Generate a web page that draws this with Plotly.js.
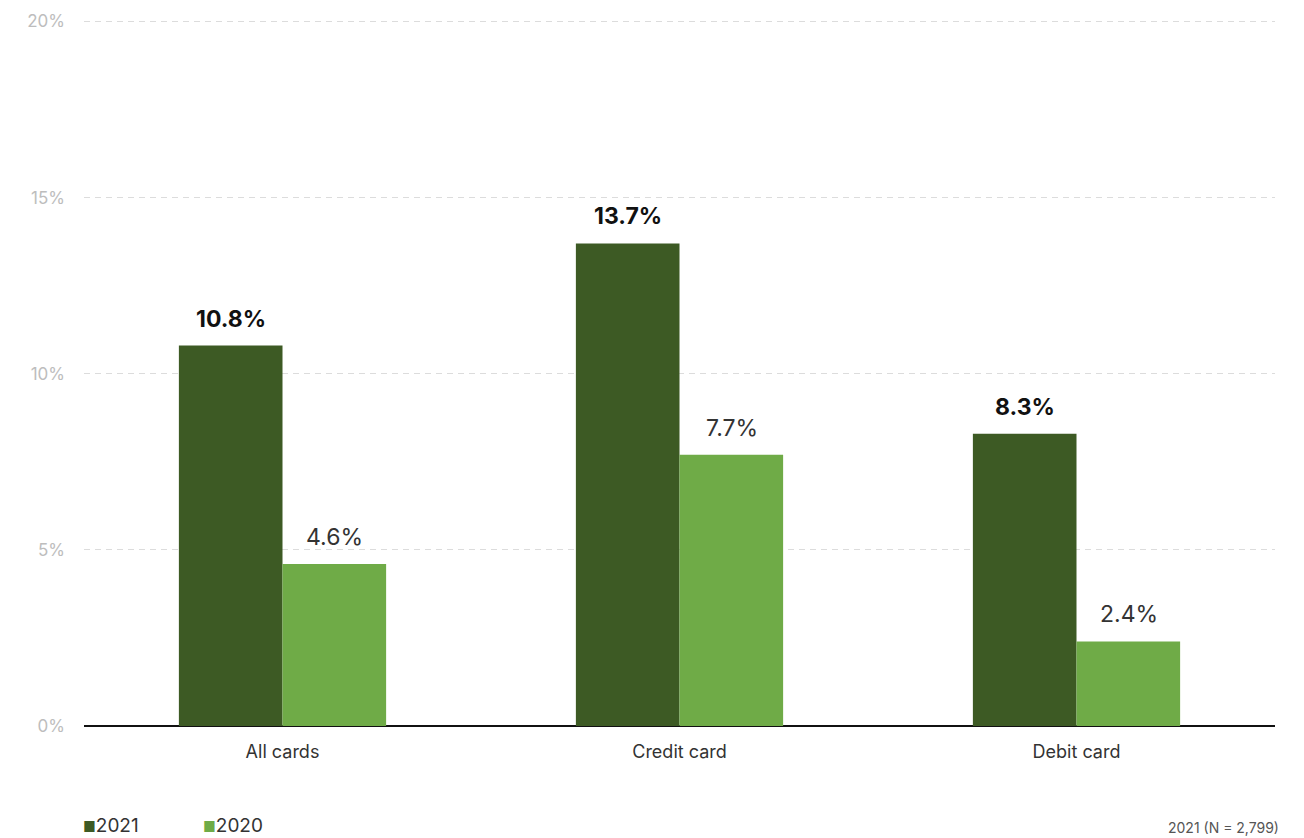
<!DOCTYPE html>
<html><head><meta charset="utf-8">
<script src="https://cdn.plot.ly/plotly-3.0.1.min.js"></script>
<style>html,body{margin:0;padding:0;background:#fff}#chart{width:1304px;height:838px}</style>
</head><body><div id="chart"></div>
<script>
const categories = ["All cards", "Credit card", "Debit card"];
const values2021 = [10.8, 13.7, 8.3];
const values2020 = [4.6, 7.7, 2.4];
const seriesNames = ["2021", "2020"];
const tickVals = [0, 5, 10, 15, 20];
const tickText = ["0%", "5%", "10%", "15%", "20%"];
const footnote = "2021 (N = 2,799)";

const dark = "#3d5a24", light = "#6fab47";
const font = "Inter, 'Noto Sans', sans-serif";

const traces = [
  {type: "bar", name: seriesNames[0], x: categories, y: values2021, marker: {color: dark}, hoverinfo: "none"},
  {type: "bar", name: seriesNames[1], x: categories, y: values2020, marker: {color: light}, hoverinfo: "none"}
];

const annotations = [];
categories.forEach((c, i) => {
  annotations.push({x: c, y: values2021[i], xref: "x", yref: "y", xshift: -52, yshift: 11, yanchor: "bottom",
    text: "<b>" + values2021[i].toFixed(1) + "%</b>", showarrow: false, font: {family: font, size: 23, color: "#111"}});
  annotations.push({x: c, y: values2020[i], xref: "x", yref: "y", xshift: 52, yshift: 11, yanchor: "bottom",
    text: values2020[i].toFixed(1) + "%", showarrow: false, font: {family: font, size: 23, color: "#333"}});
});
// legend drawn as annotations
[[seriesNames[0], dark, -3], [seriesNames[1], light, 117]].forEach(([name, col, dx]) => {
  annotations.push({xref: "paper", yref: "paper", x: 0, y: -0.140, xshift: dx, xanchor: "left", yanchor: "middle",
    text: "<span style='color:" + col + ";font-size:14px'>■</span>" + name, showarrow: false,
    font: {family: font, size: 19, color: "#333"}});
});
annotations.push({xref: "paper", yref: "paper", x: 1.005, y: -0.128, xanchor: "right", yanchor: "top",
  text: footnote, showarrow: false, font: {family: font, size: 14, color: "#555"}});

const layout = {
  width: 1304, height: 838,
  margin: {l: 84, r: 29, t: 18, b: 112, autoexpand: false},
  paper_bgcolor: "#fff", plot_bgcolor: "#fff",
  barmode: "group", bargap: 0.478, bargroupgap: 0,
  font: {family: font},
  xaxis: {tickfont: {family: font, size: 18, color: "#333"}, showgrid: false, zeroline: false, ticks: "", showline: false,
    ticklabelstandoff: 13},
  yaxis: {range: [0, 20.1], tickvals: tickVals, ticktext: tickText, tickfont: {family: font, size: 17, color: "#bdbdbd"},
    showgrid: true, gridcolor: "#dcdcdc", griddash: "6px,5px", gridwidth: 1, zeroline: true, zerolinecolor: "#111", zerolinewidth: 2,
    ticks: "", ticklabelstandoff: 18, showline: false},
  showlegend: false,
  annotations: annotations
};
Plotly.newPlot("chart", traces, layout, {displayModeBar: false, staticPlot: true});
</script></body></html>
